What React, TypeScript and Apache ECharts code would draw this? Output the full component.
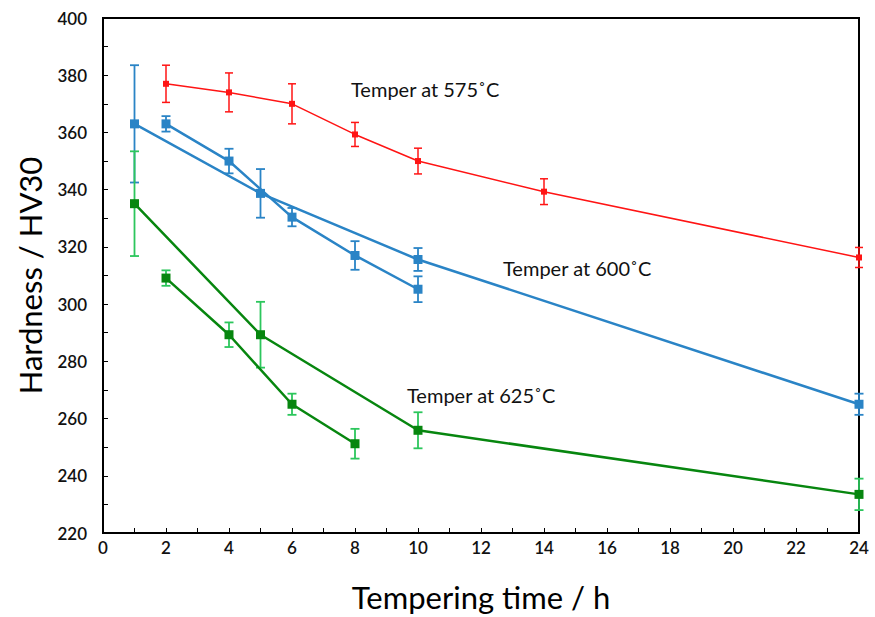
import React, { useEffect, useRef } from "react";
import * as echarts from "echarts";

const hours575 = [2, 4, 6, 8, 10, 14, 24];
const hv575 = [377, 374, 370, 359.3, 350, 339.3, 316.3];
const err575 = [6.5, 6.8, 7, 4.2, 4.5, 4.5, 3.5];

const hours600a = [1, 5, 10, 24];
const hv600a = [363, 338.7, 315.6, 265];
const err600a = [20.5, 8.5, 4, 3.7];

const hours600b = [2, 4, 6, 8, 10];
const hv600b = [363, 350, 330.4, 317, 305.2];
const err600b = [2.7, 4.3, 3.2, 5, 4.5];

const hours625a = [1, 5, 10, 24];
const hv625a = [335.1, 289.3, 255.9, 233.5];
const err625a = [18.3, 11.5, 6.3, 5.5];

const hours625b = [2, 4, 6, 8];
const hv625b = [309.1, 289.3, 265, 251.2];
const err625b = [2.7, 4.3, 3.7, 5.2];

const xTicks = [0, 24, 2];
const yTicks = [220, 400, 20];

const RED = "#ff1414";
const BLUE = "#2a84c6";
const GREEN = "#07860f";
const GREEN_ERR = "#2cc65c";
const FONT = "Lato";

function pts(xs: number[], ys: number[]) {
  return xs.map((x, i) => [x, ys[i]]);
}
function errs(xs: number[], ys: number[], es: number[]) {
  return xs.map((x, i) => [x, ys[i] - es[i], ys[i] + es[i]]);
}

function errSeries(data: number[][], color: string, cap: number, width: number) {
  return {
    type: "custom",
    data,
    z: 2,
    silent: true,
    renderItem: (_p: any, api: any) => {
      const lo = api.coord([api.value(0), api.value(1)]);
      const hi = api.coord([api.value(0), api.value(2)]);
      const style = { stroke: color, lineWidth: width };
      return {
        type: "group",
        children: [
          { type: "line", shape: { x1: lo[0], y1: lo[1], x2: hi[0], y2: hi[1] }, style },
          { type: "line", shape: { x1: lo[0] - cap, y1: lo[1], x2: lo[0] + cap, y2: lo[1] }, style },
          { type: "line", shape: { x1: hi[0] - cap, y1: hi[1], x2: hi[0] + cap, y2: hi[1] }, style },
        ],
      };
    },
  };
}

function lineSeries(data: number[][], color: string, width: number, size: number) {
  return {
    type: "line",
    data,
    z: 3,
    symbol: "rect",
    symbolSize: size,
    showSymbol: true,
    lineStyle: { color, width },
    itemStyle: { color },
  };
}

export default function App() {
  const ref = useRef<HTMLDivElement>(null);
  useEffect(() => {
    const chart = echarts.init(ref.current!, null, { renderer: "svg" });
    const labelStyle = { fontFamily: FONT, fontSize: 20, fill: "#111" };
    chart.setOption({
      animation: false,
      backgroundColor: "#fff",
      grid: {
        left: 103,
        top: 18,
        right: 16,
        bottom: 81,
        show: true,
        borderColor: "#000",
        borderWidth: 2,
      },
      xAxis: {
        type: "value",
        min: xTicks[0],
        max: xTicks[1],
        interval: xTicks[2],
        name: "Tempering time / h",
        nameLocation: "middle",
        nameGap: 48,
        nameTextStyle: { fontFamily: FONT, fontSize: 31, color: "#000" },
        axisLine: { show: false },
        axisTick: { show: true, inside: true, length: 5, lineStyle: { color: "#000", width: 1 } },
        minorTick: { show: true, splitNumber: 2, length: 5, lineStyle: { color: "#000", width: 1 } },
        splitLine: { show: false },
        axisLabel: { fontFamily: FONT, fontSize: 17, color: "#111", fontWeight: 600, margin: 6 },
      },
      yAxis: {
        type: "value",
        min: yTicks[0],
        max: yTicks[1],
        interval: yTicks[2],
        name: "Hardness / HV30",
        nameLocation: "middle",
        nameGap: 58,
        nameTextStyle: { fontFamily: FONT, fontSize: 31, color: "#000" },
        axisLine: { show: false },
        axisTick: { show: true, inside: true, length: 5, lineStyle: { color: "#000", width: 1 } },
        minorTick: { show: true, splitNumber: 2, length: 5, lineStyle: { color: "#000", width: 1 } },
        splitLine: { show: false },
        axisLabel: { fontFamily: FONT, fontSize: 17, color: "#111", fontWeight: 600, margin: 16 },
      },
      graphic: [
        { type: "text", x: 351, y: 89, style: { ...labelStyle, text: "Temper at 575˚C", verticalAlign: "middle" } },
        { type: "text", x: 503, y: 268, style: { ...labelStyle, text: "Temper at 600˚C", verticalAlign: "middle" } },
        { type: "text", x: 407, y: 395, style: { ...labelStyle, text: "Temper at 625˚C", verticalAlign: "middle" } },
      ],
      series: [
        errSeries(errs(hours575, hv575, err575), RED, 4, 1.5),
        errSeries(errs(hours600a, hv600a, err600a), BLUE, 4.5, 1.8),
        errSeries(errs(hours600b, hv600b, err600b), BLUE, 4.5, 1.8),
        errSeries(errs(hours625a, hv625a, err625a), GREEN_ERR, 4.5, 1.8),
        errSeries(errs(hours625b, hv625b, err625b), GREEN_ERR, 4.5, 1.8),
        lineSeries(pts(hours575, hv575), RED, 1.5, 6),
        lineSeries(pts(hours600a, hv600a), BLUE, 2.5, 9),
        lineSeries(pts(hours600b, hv600b), BLUE, 2.5, 9),
        lineSeries(pts(hours625a, hv625a), GREEN, 2.5, 9),
        lineSeries(pts(hours625b, hv625b), GREEN, 2.5, 9),
      ],
    });
    return () => chart.dispose();
  }, []);
  return (
    <div
      ref={ref}
      style={{ position: "fixed", left: 0, top: 0, width: 875, height: 617 }}
    />
  );
}
